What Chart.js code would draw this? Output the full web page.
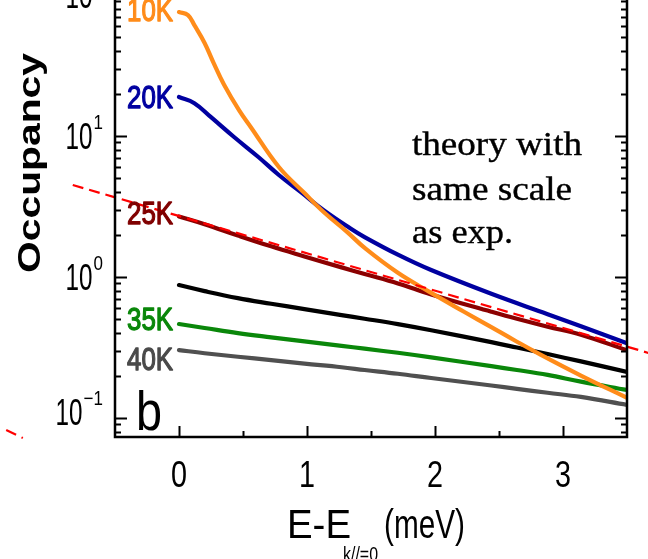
<!DOCTYPE html>
<html>
<head>
<meta charset="utf-8">
<script src="https://cdn.jsdelivr.net/npm/chart.js@4.4.1/dist/chart.umd.min.js"></script>
<style>
  html, body { margin: 0; padding: 0; background: #fff; overflow: hidden; }
  #wrap { position: relative; width: 648px; height: 559px; }
</style>
</head>
<body>
<div id="wrap"><canvas id="c" width="648" height="559"></canvas></div>
<script>
// Occupancy vs. energy above the k//=0 state, one curve per temperature
const e10K   = [0, 0.07, 0.12, 0.20, 0.27, 0.35, 0.47, 0.56, 0.78, 0.98, 1.13, 1.31, 1.46, 1.71, 1.95, 2.23, 2.44, 2.62, 2.81, 3.14, 3.5];
const occ10K = [75.7, 72.1, 61.2, 45.7, 33.0, 23.3, 15.2, 11.6, 6.03, 3.94, 2.89, 2.10, 1.58, 1.07, 0.790, 0.565, 0.441, 0.356, 0.286, 0.200, 0.139];

const e20K   = [0, 0.12, 0.25, 0.43, 0.62, 0.78, 0.95, 1.13, 1.34, 1.45, 1.71, 1.97, 2.44, 2.88, 3.14, 3.5];
const occ20K = [18.9, 17.1, 13.6, 9.84, 7.10, 5.29, 4.01, 2.98, 2.21, 1.92, 1.44, 1.12, 0.760, 0.545, 0.447, 0.339];

// the warmer curves share one energy grid
const energyGrid = [0, 0.2, 0.46, 0.72, 0.98, 1.27, 1.45, 1.71, 1.97, 2.44, 2.64, 2.88, 3.14, 3.5];
const occ25K = [2.69, 2.37, 1.97, 1.65, 1.40, 1.17, 1.05, 0.900, 0.752, 0.567, 0.505, 0.444, 0.390, 0.302];
const occ30K = [0.877, 0.794, 0.708, 0.646, 0.592, 0.537, 0.506, 0.463, 0.419, 0.345, 0.316, 0.284, 0.252, 0.212];
const occ35K = [0.464, 0.435, 0.400, 0.373, 0.349, 0.325, 0.310, 0.290, 0.269, 0.233, 0.219, 0.202, 0.181, 0.158];
const occ40K = [0.303, 0.288, 0.272, 0.257, 0.243, 0.229, 0.219, 0.206, 0.192, 0.170, 0.161, 0.151, 0.141, 0.124];

// straight reference line (exponential on a log axis) and a short stray segment
const guideE   = [-0.83, 3.67];
const guideOcc = [4.49, 0.289];
const stubE    = [-1.35, -1.22];
const stubOcc  = [0.0822, 0.0721];

const xRange = [-0.5, 3.5];
const yRange = [0.0733, 92.2];
const xMajorTicks = [0, 1, 2, 3];
const xMinorTicks = [0.5, 1.5, 2.5];
const yDecades = [-2, -1, 0, 1, 2];

const seriesLabels = ['10K', '20K', '25K', '35K', '40K'];
const labelColors  = ['#ff8c1a', '#0000a0', '#800000', '#0a870a', '#4a4a4a'];
const labelBaselines = [21, 108, 224, 330, 370];

const noteLines = ['theory with', 'same scale', 'as exp.'];

function pts(xs, ys) { return xs.map((x, i) => ({ x: x, y: ys[i] })); }

// draw text squeezed or stretched horizontally to a given width
function fitText(ctx, text, x, y, font, width, align, color, strokeW) {
  ctx.save();
  ctx.font = font;
  const w = ctx.measureText(text).width;
  const sx = width / w;
  ctx.translate(x, y);
  ctx.scale(sx, 1);
  ctx.textAlign = align;
  ctx.textBaseline = 'alphabetic';
  ctx.fillStyle = color;
  ctx.fillText(text, 0, 0);
  if (strokeW) {
    ctx.strokeStyle = color;
    ctx.lineWidth = strokeW;
    ctx.lineJoin = 'round';
    ctx.strokeText(text, 0, 0);
  }
  ctx.restore();
  return width;
}

const decorations = {
  id: 'decorations',
  afterDraw(chart) {
    const ctx = chart.ctx;
    const { left, right, top, bottom } = chart.chartArea;
    const xs = chart.scales.x, ys = chart.scales.y;
    ctx.save();

    // axis frame
    ctx.strokeStyle = '#000';
    ctx.lineWidth = 2.5;
    ctx.beginPath();
    ctx.moveTo(left, top - 5);
    ctx.lineTo(left, bottom);
    ctx.lineTo(right, bottom);
    ctx.lineTo(right, top - 5);
    ctx.stroke();

    // y ticks, inward on both sides
    ctx.lineWidth = 2;
    yDecades.forEach(d => {
      for (let m = 1; m <= 9; m++) {
        const v = m * Math.pow(10, d);
        if (v < yRange[0] || v > yRange[1] * 1.05) continue;
        const p = Math.round(ys.getPixelForValue(v)) + 0.5;
        const len = m === 1 ? 12 : 6;
        ctx.beginPath();
        ctx.moveTo(left, p); ctx.lineTo(left + len, p);
        ctx.moveTo(right, p); ctx.lineTo(right - len, p);
        ctx.stroke();
      }
    });

    // x ticks, inward from the bottom axis
    xMajorTicks.forEach(v => {
      const p = Math.round(xs.getPixelForValue(v)) + 0.5;
      ctx.beginPath(); ctx.moveTo(p, bottom); ctx.lineTo(p, bottom - 11); ctx.stroke();
    });
    xMinorTicks.forEach(v => {
      const p = Math.round(xs.getPixelForValue(v)) + 0.5;
      ctx.beginPath(); ctx.moveTo(p, bottom); ctx.lineTo(p, bottom - 6); ctx.stroke();
    });

    // x tick labels
    xMajorTicks.forEach(v => {
      const p = xs.getPixelForValue(v);
      fitText(ctx, String(v), p, 487, '36px "Liberation Sans"', 16, 'center', '#000');
    });

    // y tick labels as 10 with a raised exponent
    yDecades.forEach(d => {
      const v = Math.pow(10, d);
      const p = ys.getPixelForValue(v);
      if (p > bottom + 5) return;
      const base = Math.min(p + 13, bottom - 12);
      const expText = String(d).replace('-', '\u2212');
      ctx.font = '20px "Liberation Sans"';
      const ew = ctx.measureText(expText).width * 0.85;
      fitText(ctx, expText, 103, base - 20, '20px "Liberation Sans"', ew, 'right', '#000');
      fitText(ctx, '10', 103 - ew - 1, base, '36px "Liberation Sans"', 27, 'right', '#000');
    });

    // y axis title
    ctx.save();
    ctx.translate(40, 163);
    ctx.rotate(-Math.PI / 2);
    fitText(ctx, 'Occupancy', 0, 0, 'bold 32px "Liberation Sans"', 220, 'center', '#000');
    ctx.restore();

    // x axis title with subscript
    fitText(ctx, 'E-E', 287, 538, '40px "Liberation Sans"', 64, 'left', '#000');
    fitText(ctx, 'k//=0', 343, 561, '20px "Liberation Sans"', 35, 'left', '#000');
    fitText(ctx, '(meV)', 384, 538, '40px "Liberation Sans"', 81, 'left', '#000');

    // temperature labels at the start of each curve
    seriesLabels.forEach((t, i) => {
      fitText(ctx, t, 173, labelBaselines[i], '32px "Liberation Sans"', 46, 'right', labelColors[i], 1.3);
    });

    // panel letter
    fitText(ctx, 'b', 136, 430, '56px "Liberation Sans"', 26, 'left', '#000');

    // note
    const noteWidths = [170, 160, 101];
    const noteBase = [155, 200, 243];
    noteLines.forEach((t, i) => {
      fitText(ctx, t, 412, noteBase[i], '34px "Liberation Serif"', noteWidths[i], 'left', '#000', 0.4);
    });

    ctx.restore();
  }
};

const lineDefaults = { pointRadius: 0, borderWidth: 4.2, tension: 0.4, fill: false, borderCapStyle: 'round', borderJoinStyle: 'round' };

new Chart(document.getElementById('c'), {
  type: 'line',
  data: {
    datasets: [
      { label: 'guide', data: pts(guideE, guideOcc), borderColor: '#ff0000', borderWidth: 2.2, borderDash: [11, 6], pointRadius: 0, clip: false, order: 0 },
      { label: 'stub', data: pts(stubE, stubOcc), borderColor: '#ff0000', borderWidth: 2.2, borderDash: [11, 6], pointRadius: 0, clip: false, order: 0 },
      Object.assign({ label: '10K', data: pts(e10K, occ10K), borderColor: '#ff8c1a', order: 1 }, lineDefaults),
      Object.assign({ label: '20K', data: pts(e20K, occ20K), borderColor: '#0000a0', order: 2 }, lineDefaults),
      Object.assign({ label: '25K', data: pts(energyGrid, occ25K), borderColor: '#8b0000', order: 3 }, lineDefaults),
      Object.assign({ label: '30K', data: pts(energyGrid, occ30K), borderColor: '#000000', order: 4 }, lineDefaults),
      Object.assign({ label: '35K', data: pts(energyGrid, occ35K), borderColor: '#0a870a', order: 5 }, lineDefaults),
      Object.assign({ label: '40K', data: pts(energyGrid, occ40K), borderColor: '#505050', order: 6 }, lineDefaults)
    ]
  },
  options: {
    responsive: false,
    animation: false,
    devicePixelRatio: 1,
    layout: { padding: { left: 115, right: 21, top: 0, bottom: 122 } },
    plugins: { legend: { display: false }, tooltip: { enabled: false } },
    scales: {
      x: { type: 'linear', min: xRange[0], max: xRange[1], display: false },
      y: { type: 'logarithmic', min: yRange[0], max: yRange[1], display: false }
    }
  },
  plugins: [decorations]
});
</script>
</body>
</html>
